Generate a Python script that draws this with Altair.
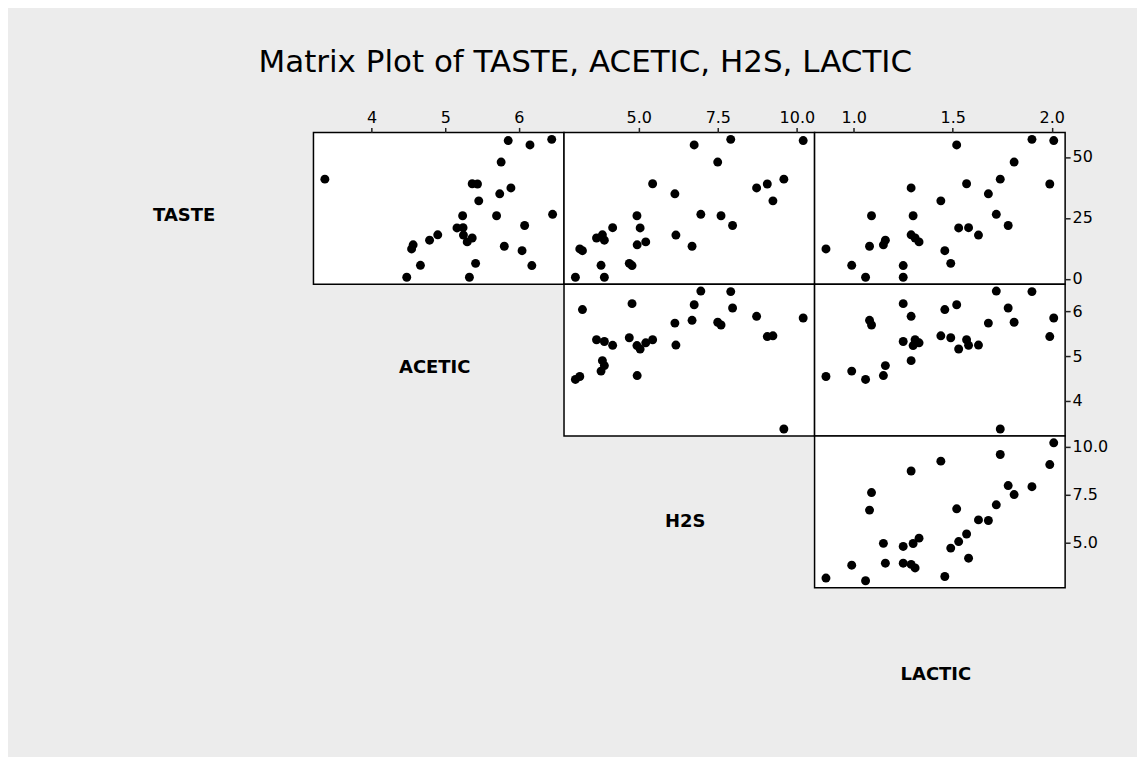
import altair as alt
import pandas as pd

# Cheese data (30 samples)
taste = [12.3, 20.9, 39.0, 47.9, 5.6, 25.9, 37.3, 21.9, 18.1, 21.0,
         34.9, 57.2, 0.7, 25.9, 54.9, 40.9, 15.9, 6.4, 18.0, 38.9,
         14.0, 15.2, 32.0, 56.7, 16.8, 11.6, 26.5, 0.7, 13.4, 5.5]
acetic = [4.543, 5.159, 5.366, 5.759, 4.663, 5.697, 5.892, 6.078, 4.898, 5.242,
          5.740, 6.446, 4.477, 5.236, 6.151, 3.365, 4.787, 5.412, 5.247, 5.438,
          4.564, 5.298, 5.455, 5.855, 5.366, 6.043, 6.458, 5.328, 5.802, 6.176]
h2s = [3.135, 5.043, 5.438, 7.496, 3.807, 7.601, 8.726, 7.966, 3.850, 4.174,
       6.142, 7.908, 2.996, 4.942, 6.752, 9.588, 3.912, 4.700, 6.174, 9.064,
       4.949, 5.220, 9.242, 10.199, 3.664, 3.219, 6.962, 3.912, 6.685, 4.787]
lactic = [0.86, 1.53, 1.57, 1.81, 0.99, 1.09, 1.29, 1.78, 1.29, 1.58,
          1.68, 1.90, 1.06, 1.30, 1.52, 1.74, 1.16, 1.49, 1.63, 1.99,
          1.15, 1.33, 1.44, 2.01, 1.31, 1.46, 1.72, 1.25, 1.08, 1.25]

variables = ["TASTE", "ACETIC", "H2S", "LACTIC"]
domain_lo = [-2.125, 3.210, 2.636, 0.8025]
domain_hi = [60.025, 6.613, 10.559, 2.0675]
tick_vals = [[0, 25, 50], [4, 5, 6], [5.0, 7.5, 10.0], [1.0, 1.5, 2.0]]
tick_fmt = ["d", "d", ".1f", ".1f"]
label_dy = [8, 8, 10, 12]

df = pd.DataFrame({"TASTE": taste, "ACETIC": acetic, "H2S": h2s, "LACTIC": lactic})

W, H = 251, 152
FONT = "DejaVu Sans"


def axis_for(i, orient):
    return alt.Axis(orient=orient, values=tick_vals[i], format=tick_fmt[i], title=None,
                    domain=False, grid=False, ticks=True, tickSize=5, tickWidth=1.5,
                    tickColor="#222222", labelColor="black", labelFont=FONT,
                    labelFontSize=16, labelPadding=2, labelFlush=False,
                    labelOverlap=False)


def scatter(r, c):
    xv, yv = variables[c], variables[r]
    x_axis = axis_for(c, "top") if r == 0 else None
    y_axis = axis_for(r, "right") if c == 3 else None
    return alt.Chart(df).mark_circle(size=80, color="black", opacity=1).encode(
        x=alt.X(f"{xv}:Q", scale=alt.Scale(domain=[domain_lo[c], domain_hi[c]], nice=False, zero=False),
                axis=x_axis),
        y=alt.Y(f"{yv}:Q", scale=alt.Scale(domain=[domain_lo[r], domain_hi[r]], nice=False, zero=False),
                axis=y_axis),
    ).properties(width=W, height=H)


def text_panel(txt, dy):
    return alt.Chart(pd.DataFrame({"t": [txt]})).mark_text(
        font=FONT, fontWeight="bold", fontSize=18, color="black", baseline="middle", align="center"
    ).encode(
        text="t:N", x=alt.value(W / 2 - 4), y=alt.value(H / 2 + dy)
    ).properties(width=W, height=H,
                 view=alt.ViewBackground(stroke="transparent", fill="transparent"))


items = []
for r in range(4):
    for c in range(4):
        if c < r:
            items.append(text_panel("", 0))
        elif c == r:
            items.append(text_panel(variables[r], label_dy[r]))
        else:
            items.append(scatter(r, c))

chart = alt.concat(*items, columns=4, spacing=0, bounds="flush").properties(
    title=alt.TitleParams("Matrix Plot of TASTE, ACETIC, H2S, LACTIC", font=FONT, fontSize=31,
                          fontWeight="normal", color="black", anchor="middle", offset=30),
    padding={"left": 54, "top": 38, "right": 28, "bottom": 16},
).configure(background="#ececec").configure_view(stroke="black", strokeWidth=1.5, fill="white")

chart.save("out.html", embed_options={"renderer": "svg", "actions": False})
